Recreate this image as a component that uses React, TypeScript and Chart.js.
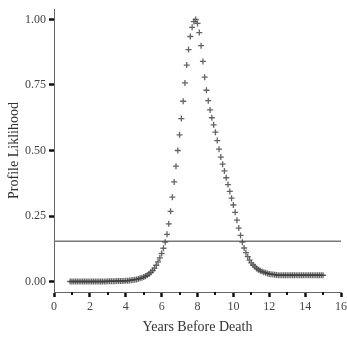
import React, { useEffect, useRef } from "react";
import { Chart, registerables } from "chart.js";

Chart.register(...registerables);

// Years before death (x) and profile likelihood (y)
const YEARS: number[] = [
  0.9,
  1.0, 1.1, 1.2, 1.3, 1.4, 1.5, 1.6, 1.7, 1.8, 1.9,
  2.0, 2.1, 2.2, 2.3, 2.4, 2.5, 2.6, 2.7, 2.8, 2.9,
  3.0, 3.1, 3.2, 3.3, 3.4, 3.5, 3.6, 3.7, 3.8, 3.9,
  4.0, 4.1, 4.2, 4.3, 4.4, 4.5, 4.6, 4.7, 4.8, 4.9,
  5.0, 5.1, 5.2, 5.3, 5.4, 5.5, 5.6, 5.7, 5.8, 5.9,
  6.0, 6.1, 6.2, 6.3, 6.4, 6.5, 6.6, 6.7, 6.8, 6.9,
  7.0, 7.1, 7.2, 7.3, 7.4, 7.5, 7.6, 7.7, 7.8, 7.9,
  8.0, 8.1, 8.2, 8.3, 8.4, 8.5, 8.6, 8.7, 8.8, 8.9,
  9.0, 9.1, 9.2, 9.3, 9.4, 9.5, 9.6, 9.7, 9.8, 9.9,
  10.0, 10.1, 10.2, 10.3, 10.4, 10.5, 10.6, 10.7, 10.8, 10.9,
  11.0, 11.1, 11.2, 11.3, 11.4, 11.5, 11.6, 11.7, 11.8, 11.9,
  12.0, 12.1, 12.2, 12.3, 12.4, 12.5, 12.6, 12.7, 12.8, 12.9,
  13.0, 13.1, 13.2, 13.3, 13.4, 13.5, 13.6, 13.7, 13.8, 13.9,
  14.0, 14.1, 14.2, 14.3, 14.4, 14.5, 14.6, 14.7, 14.8, 14.9,
  15.0,
];

const LIKELIHOOD: number[] = [
  0.0,
  0.0, 0.0, 0.0, 0.0, 0.0, 0.0, 0.0, 0.0, 0.0, 0.0,
  0.0, 0.0, 0.0, 0.0, 0.0, 0.0, 0.0, 0.0, 0.0, 0.0,
  0.001, 0.001, 0.001, 0.001, 0.001, 0.002, 0.002, 0.002, 0.002, 0.002,
  0.003, 0.003, 0.004, 0.005, 0.006, 0.007, 0.008, 0.010, 0.012, 0.014,
  0.017, 0.020, 0.024, 0.029, 0.035, 0.042, 0.051, 0.062, 0.075, 0.090,
  0.107, 0.127, 0.150, 0.180, 0.220, 0.268, 0.322, 0.380, 0.440, 0.500,
  0.560, 0.622, 0.688, 0.758, 0.826, 0.885, 0.935, 0.970, 0.992, 1.000,
  0.985, 0.950, 0.900, 0.840, 0.780, 0.730, 0.690, 0.655, 0.625, 0.598,
  0.570, 0.538, 0.505, 0.475, 0.448, 0.422, 0.396, 0.370, 0.344, 0.318,
  0.292, 0.264, 0.234, 0.204, 0.176, 0.150, 0.128, 0.110, 0.095, 0.082,
  0.071, 0.063, 0.056, 0.050, 0.045, 0.041, 0.038, 0.035, 0.033, 0.031,
  0.029, 0.028, 0.027, 0.026, 0.025, 0.024, 0.024, 0.024, 0.024, 0.024,
  0.024, 0.024, 0.024, 0.024, 0.024, 0.024, 0.024, 0.024, 0.024, 0.024,
  0.024, 0.024, 0.024, 0.024, 0.024, 0.024, 0.024, 0.024, 0.024, 0.024,
  0.024,
];

const CUTOFF = 0.154;
const X_RANGE = [0, 16];
const Y_RANGE = [-0.04, 1.04];
const X_TICKS = [0, 2, 4, 6, 8, 10, 12, 14, 16];
const X_MINOR_TICKS = [1, 3, 5, 7, 9, 11, 13, 15];
const Y_TICKS = [0, 0.25, 0.5, 0.75, 1.0];

const FONT = "'Liberation Serif', 'Times New Roman', serif";

const minorTicksPlugin = {
  id: "minorTicks",
  afterDraw(chart: any) {
    const xs = chart.scales.x;
    const ctx = chart.ctx;
    ctx.save();
    ctx.fillStyle = "#111";
    for (const v of X_MINOR_TICKS) {
      const px = xs.getPixelForValue(v);
      ctx.fillRect(Math.round(px) - 1, xs.top, 2, 3);
    }
    ctx.restore();
  },
};

export default function App() {
  const ref = useRef<HTMLCanvasElement | null>(null);

  useEffect(() => {
    if (!ref.current) return;
    const points = YEARS.map((x, i) => ({ x, y: LIKELIHOOD[i] }));
    const chart = new Chart(ref.current, {
      type: "scatter",
      data: {
        datasets: [
          {
            data: points,
            pointStyle: "cross",
            pointRadius: 3,
            borderWidth: 1.3,
            borderColor: "rgba(60,60,60,0.8)",
            backgroundColor: "rgba(60,60,60,0.8)",
            showLine: false,
          },
          {
            data: [
              { x: X_RANGE[0], y: CUTOFF },
              { x: X_RANGE[1], y: CUTOFF },
            ],
            showLine: true,
            pointRadius: 0,
            borderColor: "#777",
            borderWidth: 1.5,
          },
        ],
      },
      options: {
        responsive: false,
        animation: false,
        layout: { padding: { top: 9, right: 0, left: 0, bottom: 0 } },
        plugins: {
          legend: { display: false },
          tooltip: { enabled: false },
        },
        scales: {
          x: {
            type: "linear",
            min: X_RANGE[0],
            max: X_RANGE[1],
            afterBuildTicks: (s: any) => {
              s.ticks = X_TICKS.map((v) => ({ value: v }));
            },
            afterFit: (s: any) => {
              s.height = 46;
              s.paddingRight = 6;
              s.paddingLeft = 0;
            },
            ticks: {
              color: "#444",
              font: { family: FONT, size: 12 },
              padding: 3,
              maxRotation: 0,
              callback: (v: any) => String(v),
            },
            grid: {
              display: true,
              drawOnChartArea: false,
              drawTicks: true,
              tickLength: 5,
              tickWidth: 2.5,
              tickColor: "#111",
            },
            border: { display: true, color: "#666", width: 1 },
            title: {
              display: true,
              text: "Years Before Death",
              color: "#333",
              font: { family: FONT, size: 14 },
              padding: { top: 0, bottom: 2 },
            },
          },
          y: {
            type: "linear",
            min: Y_RANGE[0],
            max: Y_RANGE[1],
            afterBuildTicks: (s: any) => {
              s.ticks = Y_TICKS.map((v) => ({ value: v }));
            },
            afterFit: (s: any) => {
              s.width = 54;
              s.paddingTop = 0;
              s.paddingBottom = 0;
            },
            ticks: {
              color: "#444",
              font: { family: FONT, size: 12 },
              padding: 3,
              callback: (v: any) => Number(v).toFixed(2),
            },
            grid: {
              display: true,
              drawOnChartArea: false,
              drawTicks: true,
              tickLength: 5,
              tickWidth: 2.5,
              tickColor: "#111",
            },
            border: { display: true, color: "#666", width: 1 },
            title: {
              display: true,
              text: "Profile Liklihood",
              color: "#333",
              font: { family: FONT, size: 14 },
              padding: { top: 6, bottom: 0 },
            },
          },
        },
      },
      plugins: [minorTicksPlugin],
    } as any);
    return () => chart.destroy();
  }, []);

  return (
    <div style={{ position: "fixed", left: 0, top: 0, width: 347, height: 338, background: "#fff" }}>
      <canvas ref={ref} width={347} height={338} style={{ display: "block", width: 347, height: 338 }} />
    </div>
  );
}
